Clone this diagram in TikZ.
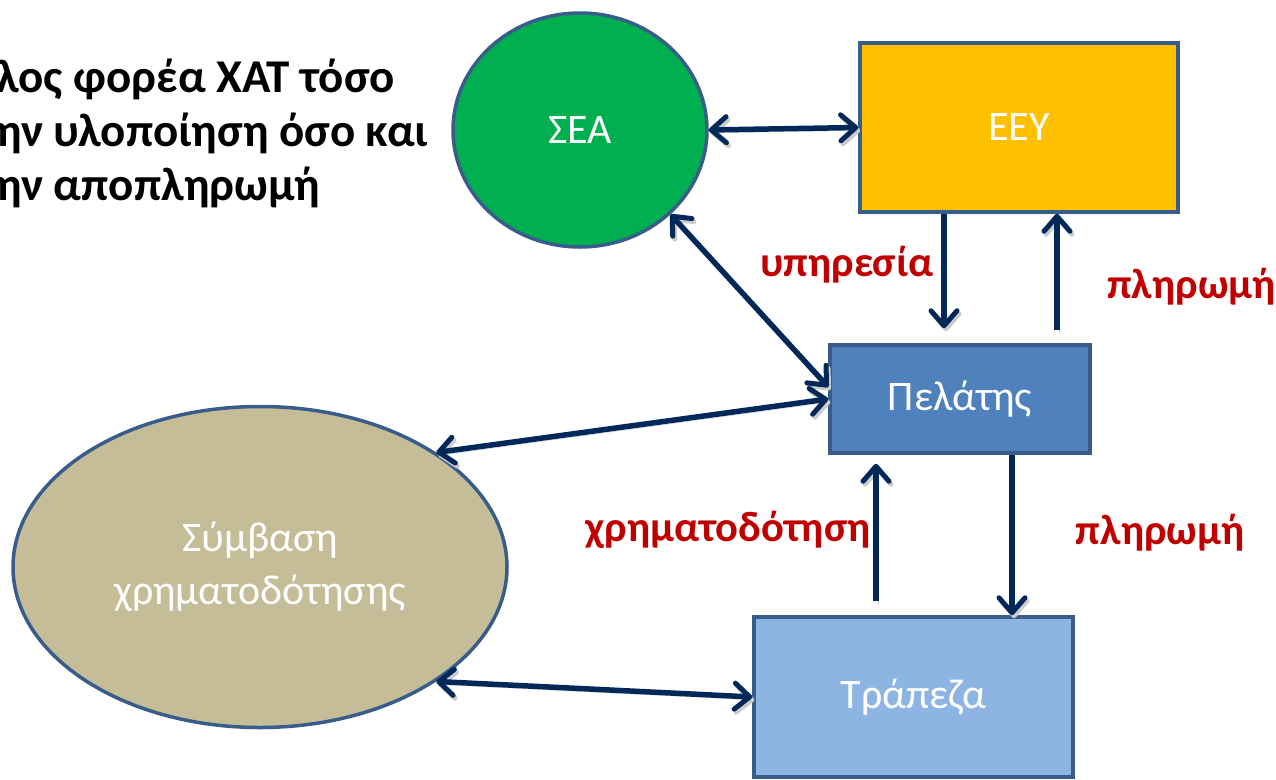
\documentclass[tikz,border=0pt]{standalone}
\usepackage{fontspec}
\setmainfont{Carlito}
\usetikzlibrary{shapes.geometric,arrows.meta,calc}
\definecolor{navy}{RGB}{0,41,90}
\definecolor{edge}{RGB}{56,93,138}
\definecolor{seagreen}{RGB}{0,176,80}
\definecolor{eeyorange}{RGB}{255,192,0}
\definecolor{pelblue}{RGB}{79,129,189}
\definecolor{trablue}{RGB}{142,180,227}
\definecolor{symtan}{RGB}{196,189,151}
\definecolor{lblred}{RGB}{192,0,0}
\tikzset{
  whitetxt/.style={text=white,font=\fontsize{42}{50}\selectfont,align=center},
  boxnode/.style={draw=edge,line width=3.5pt,inner sep=0pt,whitetxt},
  ellnode/.style={ellipse,draw=edge,line width=3.5pt,inner sep=0pt,whitetxt},
  tipb/.tip={Straight Barb[length=15pt,width=26pt,line width=5pt,round]},
  arr/.style={draw=navy,line width=5.5pt,-tipb,
    preaction={draw=black!20,transform canvas={shift={(2pt,-3pt)}}}},
  darr/.style={arr,tipb-tipb},
  redlbl/.style={text=lblred,font=\fontsize{42.5}{50}\selectfont\bfseries,inner sep=0pt},
  toptxt/.style={text=black,font=\fontsize{47}{52}\selectfont\bfseries,inner sep=0pt,anchor=base west}
}
\begin{document}
\begin{tikzpicture}[x=1pt,y=-1pt]
\useasboundingbox (0,0) rectangle (1276,779);
% nodes
\node[ellnode,fill=seagreen,minimum width=254pt,minimum height=234pt] (SEA) at (580,130) {ΣΕΑ};
\node[boxnode,fill=eeyorange,minimum width=318pt,minimum height=169pt] (EEY) at (1019,127.5) {ΕΕΥ};
\node[boxnode,fill=pelblue,minimum width=260pt,minimum height=108pt] (Pel) at (960,399) {Πελάτης};
\node[boxnode,fill=trablue,minimum width=319pt,minimum height=160pt] (Tra) at (913.5,697) {Τράπεζα};
\node[ellnode,fill=symtan,minimum width=494pt,minimum height=321pt] (Sym) at (260,567) {Σύμβαση\\[3pt]χρηματοδότησης};
% top-left text
\node[toptxt] (t1) at (-4,92) {λος φορέα ΧΑΤ τόσο};
\node[toptxt] (t2) at (-4,146) {ην υλοποίηση όσο και};
\node[toptxt] (t3) at (-4,200) {ην αποπληρωμή};
% labels
\node[redlbl] (l1) at (847,265) {υπηρεσία};
\node[redlbl,anchor=west] (l2) at (1107,287) {πληρωμή};
\node[redlbl] (l3) at (1160,533) {πληρωμή};
\node[redlbl] (l4) at (728,530) {χρηματοδότηση};
% connectors
\draw[darr] (SEA.east) -- (EEY.west);
\draw[darr] (SEA.-43) -- ($(Pel.west)+(0,-12)$);
\draw[darr] (Pel.west) -- (Sym.33);
\draw[darr] (Sym.-33) -- (Tra.west);
\draw[arr] ($(EEY.south)+(-75,0)$) -- ($(Pel.north)+(-16,-15)$);
\draw[arr] ($(Pel.north)+(97,-13)$) -- ($(EEY.south)+(38,0)$);
\draw[arr] ($(Pel.south)+(52,0)$) -- ($(Tra.north)+(98.5,0)$);
\draw[arr] ($(Tra.north)+(-37.5,-14)$) -- ($(Pel.south)+(-84,9)$);
\end{tikzpicture}
\end{document}
